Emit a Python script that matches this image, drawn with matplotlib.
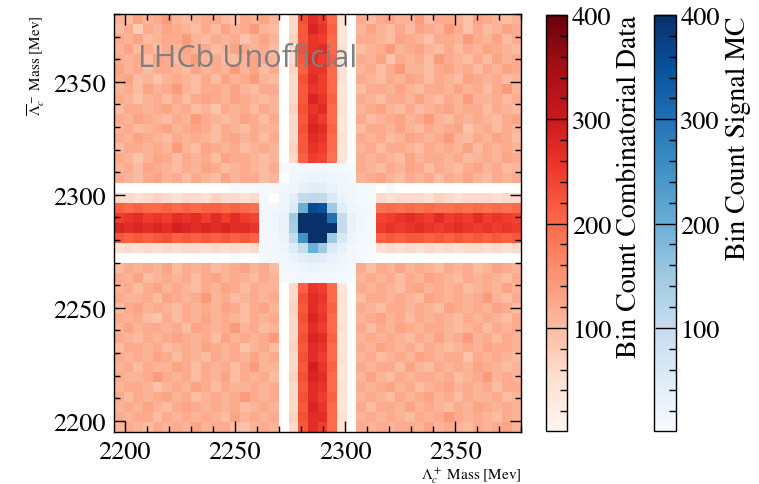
import numpy as np
import matplotlib
matplotlib.use("Agg")
import matplotlib.pyplot as plt
from matplotlib.ticker import MultipleLocator

plt.rcParams["font.family"] = "STIXGeneral"
plt.rcParams["mathtext.fontset"] = "stix"

MASS_LO, MASS_HI = 2195.0, 2380.0
N_BINS = 42
VMIN, VMAX = 1, 400

# combinatorial data, one character per bin, top row (highest Lambda_c-bar mass) first
# '.' = empty bin, '0'-'9' -> 0..90, 'A'-'Z' -> 100..350 (steps of 10)
LEVELS = "0123456789ABCDEFGHIJKLMNOPQRSTUVWXYZ"
EMPTY = "." * 42
DATA_ROWS = [
    "BADBCEBABCCA9CBDB" + ".6NRPK5." + "CACDBBEACCB9DCBAB",
    "AC8CBDCBACADBCEBA" + ".6MSQL4." + "BDBACADCBEC9CABDC",
    "CBDABCCEBACBC9BDB" + ".7MQPK4." + "CCBADCB9CCBECBDAC",
    "BDACACBDBCABDCBCA" + ".6NQRK5." + "ABCEBCDBACACBDCBA",
    "CBCADCACEBCAABDCB" + ".6MRPL4." + "CBD9CBCAECBACADBC",
    "DBCACCBADBCBEBDAC" + ".7LQQK4." + "BCACEBBACDBCACBDC",
    "CDAB9BCBACADBCEBA" + ".6NRPK5." + "CBACBDCACBADCBCAB",
    "BCADBCEBACCBDBACC" + ".6MQPK4." + "ACCBDBACCBDBCACEB",
    "CB9BCACACDCBDCBAB" + ".6MSQL4." + "CBACCBDBACBEBBCAC",
    "ACCBCDBCAB9CBCACB" + ".7NQRK5." + "BCDBACABCDBCCACBA",
    "CBDCBACBECBABDCAC" + ".6MRPK4." + "CABCDBCEBACBCBACD",
    "BCABCDBCDCACBACBB" + ".6NSRL4." + "ACCBDBACBCD9BCACB",
    "CBDCBACBCBACDBCAC" + ".6MRQK5." + "CBCABDCBCEBACBDCA",
    "ACCBCBEBADCBCABCB" + ".7MQPK4." + "BCACCBACBCBDACBCB",
    "CB9BDCACBCADCCBAB" + ".6LPOJ4." + "CBCBADBCCBCABCBDC",
    "BCADCBACBDCABCBAC" + "........" + "CBACBDCACBACDBCAB",
    "CBACDBCACBADBCCAB" + "........" + "BCDBACBCACBDBACBC",
    EMPTY,
    "665676566576656.." + "........" + "..656665765666566",
    "LKLKKLKLKLLKLKJ.." + "........" + "..JKJKJKJJKJKJKJK",
    "PQRPQPRQRPRPRPO.." + "........" + "..OPQRQPRPQPRPQPO",
    "SRSRSRTSRSRSRRQ.." + "........" + "..PQPQRQPQRQPQPQP",
    "MLMLMNLMLMLMLML.." + "........" + "..LMLMMLMLMLMLMLM",
    "565656566565656.." + "........" + "..565656565665656",
    EMPTY,
    "ACBCBDACBCABCDBCA" + "........" + "CACBDBCBACBCABDCB",
    "CBDABCBCACDBCBACB" + "........" + "BCBCACBDCBACBCBAC",
    "BCACDBCBACBDCACBB" + ".6LQPK4." + "CBCBACDBCBCABCBDB",
    "CBBCADCBCEBCABCBC" + ".6NRQK5." + "ACCBCBADCBCBCEBAC",
    "ACDBCBACBCBDCACDB" + ".7MRPL4." + "CBACCBCBADCBCBDCA",
    "CBCA9CACBDBCBACBC" + ".6NSQK4." + "BCDBCACBCBACBCBAC",
    "BDBCCBCADCBCEBCAB" + ".6MRPK5." + "CACBDCBCCBABCACBC",
    "CBACBCDCBCADBCBCE" + ".6NSRL4." + "BCBCBACBDBCEBCACB",
    "ACCBCABCBDCBC9BCA" + ".7MRQK4." + "CBDCBCACBABCBDCCB",
    "CBCBDCACBACBCBDBC" + ".6NRPK5." + "BCABCBDCBCC9CBCBA",
    "BCACBBDCACBCACEBB" + ".6MTQL4." + "CBCCADBACBCBDCBAB",
    "CBBCECBCACBDACBCA" + ".7NSRK4." + "BDBACBCCBCABCEBCB",
    "BCCB9BCBDCACBBCBC" + ".6MRQK5." + "CBCDBCABCDBCBCACC",
    "CACBCDBCABCBCECBC" + ".6NRPL4." + "BCBACBCDBCACBBCAB",
    "BCBDBACDCBCBCABCB" + ".6MSQK4." + "CACCBDBCBACBDCBCB",
    "CBCCACBCBCBADBCBC" + ".7NRRK5." + "BCBCBACBCECBCBACB",
    "BCBACBCBDBCCA9BCB" + ".6MRPK4." + "CBCBCCBDBCBACBCDB",
]

# signal MC counts around the peak; block rows listed top first
MC_FIRST_ROW = 15
MC_FIRST_COL = 12
MC_BLOCK = [
    [0, 0, 0, 0, 0, 6, 10, 12, 14, 14, 10, 8, 5, 0, 0, 0, 0, 0],
    [0, 0, 0, 0, 0, 0, 14, 20, 25, 24, 18, 12, 8, 0, 0, 0, 0, 0],
    [3, 2, 4, 8, 10, 12, 20, 35, 45, 42, 30, 18, 12, 8, 6, 0, 3, 0],
    [0, 0, 0, 10, 0, 18, 40, 100, 110, 105, 55, 25, 12, 8, 5, 0, 0, 0],
    [0, 0, 0, 12, 15, 20, 55, 200, 360, 350, 150, 45, 20, 10, 6, 0, 0, 0],
    [0, 0, 0, 15, 18, 30, 150, 420, 600, 560, 300, 100, 30, 12, 8, 0, 0, 0],
    [0, 0, 0, 14, 18, 30, 140, 450, 620, 580, 420, 100, 28, 12, 8, 0, 0, 0],
    [0, 0, 0, 12, 15, 25, 100, 250, 500, 480, 150, 60, 20, 10, 6, 0, 0, 0],
    [0, 0, 0, 10, 12, 20, 50, 100, 200, 150, 55, 30, 15, 8, 5, 0, 0, 0],
    [3, 0, 0, 8, 10, 14, 25, 40, 50, 45, 30, 20, 12, 6, 4, 0, 0, 0],
    [0, 0, 0, 0, 0, 10, 15, 20, 25, 22, 18, 12, 8, 0, 0, 0, 0, 0],
    [0, 0, 0, 0, 0, 6, 10, 12, 14, 12, 10, 8, 5, 0, 0, 0, 0, 0],
]


def decode_rows(rows):
    grid = np.zeros((len(rows), len(rows[0])))
    for i, row in enumerate(rows[::-1]):
        assert len(row) == N_BINS, (i, len(row))
        for j, ch in enumerate(row):
            if ch != ".":
                grid[i, j] = 10 * LEVELS.index(ch)
    return grid


data_counts = decode_rows(DATA_ROWS)

mc_counts = np.zeros((N_BINS, N_BINS))
block = np.array(MC_BLOCK, dtype=float)[::-1]
mc_counts[MC_FIRST_ROW:MC_FIRST_ROW + block.shape[0],
          MC_FIRST_COL:MC_FIRST_COL + block.shape[1]] = block

edges = np.linspace(MASS_LO, MASS_HI, N_BINS + 1)

fig = plt.figure(figsize=(7.59, 4.85), dpi=100)
ax = fig.add_axes([0.150, 0.107, 0.537, 0.862])
cax_data = fig.add_axes([0.719, 0.109, 0.028, 0.858])
cax_mc = fig.add_axes([0.862, 0.109, 0.028, 0.858])

mesh_data = ax.pcolormesh(edges, edges, np.ma.masked_less(data_counts, 1),
                          cmap="Reds", vmin=VMIN, vmax=VMAX)
mesh_mc = ax.pcolormesh(edges, edges, np.ma.masked_less(mc_counts, 1),
                        cmap="Blues", vmin=VMIN, vmax=VMAX)

ax.set_xlim(MASS_LO, MASS_HI)
ax.set_ylim(MASS_LO, MASS_HI)
for axis in (ax.xaxis, ax.yaxis):
    axis.set_major_locator(MultipleLocator(50))
    axis.set_minor_locator(MultipleLocator(10))
ax.tick_params(which="both", direction="in", top=True, right=True,
               labelsize=19, pad=6)
ax.tick_params(which="major", length=8, width=1.0)
ax.tick_params(which="minor", length=4.5, width=1.0)
for spine in ax.spines.values():
    spine.set_linewidth(1.0)

ax.set_xlabel(r"$\Lambda_c^+$ Mass [Mev]", fontsize=11, loc="right", labelpad=1)
ax.set_ylabel(r"$\overline{\Lambda}_c^-$ Mass [Mev]", fontsize=11, loc="top")

ax.text(0.06, 0.895, "LHCb Unofficial", transform=ax.transAxes,
        fontsize=22, color="#808080", family="Open Sans", va="center")

for cax, mesh, label in ((cax_data, mesh_data, "Bin Count Combinatorial Data"),
                         (cax_mc, mesh_mc, "Bin Count Signal MC")):
    cb = fig.colorbar(mesh, cax=cax, ticks=[100, 200, 300, 400])
    cax.yaxis.set_minor_locator(MultipleLocator(20))
    cax.tick_params(which="both", direction="in", labelsize=19, width=1.0)
    cax.tick_params(which="major", length=15)
    cax.tick_params(which="minor", length=5)
    cb.outline.set_linewidth(1.0)
    cb.set_label(label, fontsize=20, loc="top")

fig.savefig("out.png", dpi=100)
